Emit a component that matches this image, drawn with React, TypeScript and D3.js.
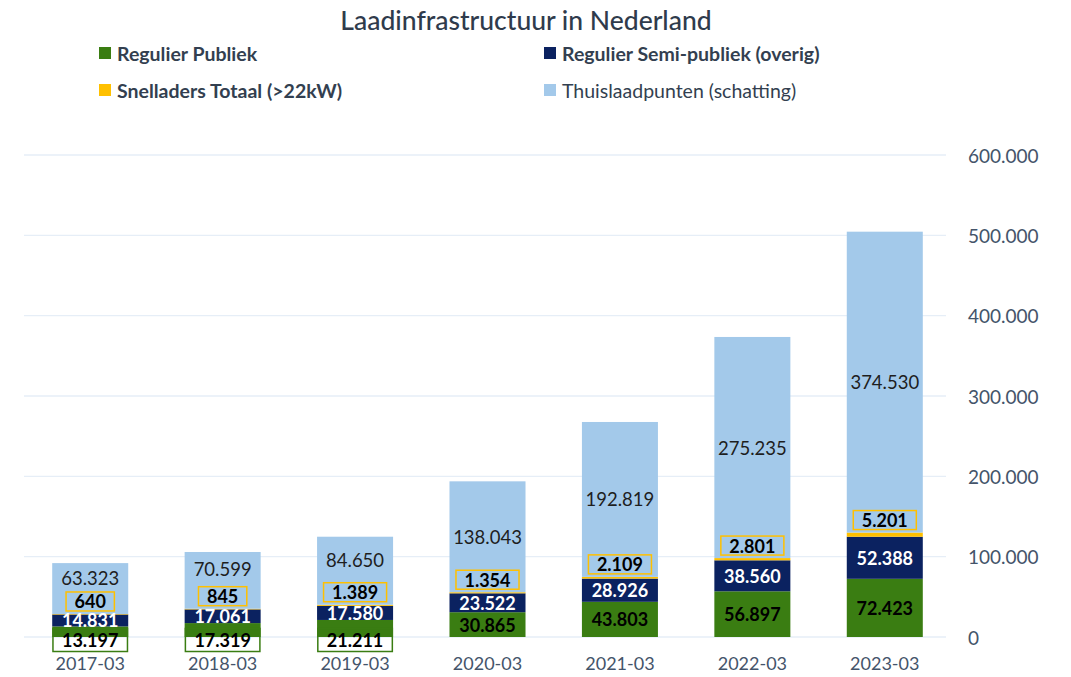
import React from 'react';
import * as d3 from 'd3';

const categories = ['2017-03', '2018-03', '2019-03', '2020-03', '2021-03', '2022-03', '2023-03'];
const regulierPubliek = [13197, 17319, 21211, 30865, 43803, 56897, 72423];
const regulierSemi = [14831, 17061, 17580, 23522, 28926, 38560, 52388];
const snelladers = [640, 845, 1389, 1354, 2109, 2801, 5201];
const thuis = [63323, 70599, 84650, 138043, 192819, 275235, 374530];
const yTicks = [0, 100000, 200000, 300000, 400000, 500000, 600000];

const seriesNames = ['Regulier Publiek', 'Regulier Semi-publiek (overig)', 'Snelladers Totaal (>22kW)', 'Thuislaadpunten (schatting)'];
const keys = ['publiek', 'semi', 'snel', 'thuis'];
const colors: Record<string, string> = { publiek: '#3a7d12', semi: '#0b2260', snel: '#ffc000', thuis: '#a3c9ea' };

const FONT = 'Lato, "Open Sans", sans-serif';
const nl = d3.formatLocale({ decimal: ',', thousands: '.', grouping: [3], currency: ['€', ''] });
const fmt = nl.format(',d');

let ctx: CanvasRenderingContext2D | null = null;
function measure(text: string, font: string) {
  if (!ctx) ctx = document.createElement('canvas').getContext('2d');
  if (!ctx) return text.length * 9;
  ctx.font = font;
  return ctx.measureText(text).width;
}

export default function App() {
  const W = 1071, H = 677;
  const x = d3.scaleBand<string>().domain(categories).range([24, 951]).paddingInner(0.426).paddingOuter(0.213);
  const y = d3.scaleLinear().domain([0, 600000]).range([637, 155]);

  const rows = categories.map((c, i) => ({ cat: c, publiek: regulierPubliek[i], semi: regulierSemi[i], snel: snelladers[i], thuis: thuis[i] }));
  const stack = d3.stack<any>().keys(keys)(rows);
  const bw = x.bandwidth();
  const y0 = y(0);

  const labelFontBold = `bold 18px ${FONT}`;

  return (
    <svg width={W} height={H} style={{ position: 'absolute', left: 0, top: 0, background: '#fff' }} fontFamily={FONT}>
      <rect x={0} y={0} width={W} height={H} fill="#fff" />
      <text x={526} y={20} textAnchor="middle" dominantBaseline="central" fontSize={26.5} fontWeight={500} fill="#2f3b4c">Laadinfrastructuur in Nederland</text>

      {seriesNames.map((name, i) => {
        const col = i % 2 === 0 ? 0 : 1;
        const row = Math.floor(i / 2);
        const k = keys[i];
        const lx = col === 0 ? 99 : 544;
        const ly = row === 0 ? 53 : 90;
        return (
          <g key={name}>
            <rect x={lx} y={ly - 6} width={12} height={12} fill={colors[k]} />
            <text x={lx + 18} y={ly} dominantBaseline="central" fontSize={19.5} fontWeight={k === 'thuis' ? 400 : 700} fill="#333f50">{name}</text>
          </g>
        );
      })}

      {yTicks.map(t => (
        <g key={t}>
          <line x1={24} x2={946} y1={y(t)} y2={y(t)} stroke="#e6eef7" strokeWidth={1.3} />
          <text x={968} y={y(t)} dominantBaseline="central" fontSize={19} fill="#44546a">{fmt(t)}</text>
        </g>
      ))}

      {stack.map(s => (
        <g key={s.key}>
          {s.map((d, i) => (
            <rect key={i} x={x(categories[i])} y={y(d[1])} width={bw} height={Math.max(0, y(d[0]) - y(d[1]))} fill={colors[s.key as string]} />
          ))}
        </g>
      ))}

      {categories.map((c, i) => {
        const cx = (x(c) as number) + bw / 2;
        const bx = x(c) as number;
        const [pS, sS, nS, tS] = stack.map(s => s[i]);
        const pTop = y(pS[1]);
        const pH = y0 - pTop;
        const pSmall = pH < 20;
        const pY = pSmall ? y0 + 3 : (y0 + pTop) / 2;
        const sY = (y(sS[0]) + y(sS[1])) / 2;
        const snelTop = y(nS[1]);
        const nY = snelTop - 12.5;
        const nText = fmt(snelladers[i]);
        const nW = measure(nText, labelFontBold) + 17;
        const nH = 19;
        const boxTop = nY - nH / 2;
        const barTop = y(tS[1]);
        const tCenter = (barTop + snelTop) / 2;
        const tY = tCenter + 9 > boxTop - 4 ? (barTop + boxTop) / 2 : tCenter;
        return (
          <g key={c}>
            {pSmall && <rect x={bx + 0.75} y={pY - 11.5} width={bw - 1.5} height={23} fill="none" stroke="#3a7d12" strokeWidth={1.5} />}
            <text x={cx} y={pY} textAnchor="middle" dominantBaseline="central" fontSize={18} fontWeight={700} fill="#000">{fmt(regulierPubliek[i])}</text>
            <text x={cx} y={sY} textAnchor="middle" dominantBaseline="central" fontSize={18} fontWeight={700} fill="#fff">{fmt(regulierSemi[i])}</text>
            <rect x={cx - nW / 2} y={boxTop} width={nW} height={nH} fill="none" stroke="#ffc000" strokeWidth={1.5} />
            <text x={cx} y={nY} textAnchor="middle" dominantBaseline="central" fontSize={18} fontWeight={700} fill="#000">{nText}</text>
            <text x={cx} y={tY} textAnchor="middle" dominantBaseline="central" fontSize={18.5} fill="#1e1e1e">{fmt(thuis[i])}</text>
            <text x={cx} y={663} textAnchor="middle" dominantBaseline="central" fontSize={18} fill="#44546a">{c}</text>
          </g>
        );
      })}
    </svg>
  );
}
